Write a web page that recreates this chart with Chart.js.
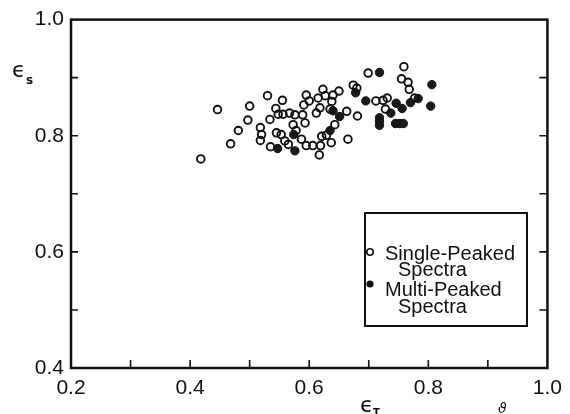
<!DOCTYPE html>
<html>
<head>
<meta charset="utf-8">
<script src="https://cdn.jsdelivr.net/npm/chart.js@4.4.1/dist/chart.umd.min.js"></script>
<style>
  html, body { margin: 0; padding: 0; background: #fff; }
  #wrap { width: 570px; height: 414px; }
</style>
</head>
<body>
<div id="wrap"><canvas id="myChart"></canvas></div>
<script>
// single-peaked spectra (open circles)
var singleX = [0.418, 0.446, 0.468, 0.481, 0.497, 0.500, 0.518, 0.520, 0.518, 0.530,
               0.535, 0.534, 0.544, 0.548, 0.545, 0.553, 0.555, 0.556, 0.559, 0.565,
               0.567, 0.573, 0.576, 0.578, 0.587, 0.589, 0.591, 0.593, 0.595, 0.595,
               0.600, 0.606, 0.612, 0.615, 0.617, 0.618, 0.619, 0.621, 0.623, 0.627,
               0.629, 0.635, 0.637, 0.638, 0.640, 0.643, 0.650, 0.663, 0.665, 0.674,
               0.680, 0.681, 0.699, 0.712, 0.724, 0.728, 0.731, 0.755, 0.759, 0.766,
               0.768, 0.777];
var singleY = [0.760, 0.845, 0.786, 0.809, 0.827, 0.851, 0.814, 0.802, 0.792, 0.869,
               0.781, 0.828, 0.847, 0.837, 0.805, 0.802, 0.861, 0.837, 0.791, 0.785,
               0.839, 0.819, 0.836, 0.809, 0.794, 0.836, 0.853, 0.822, 0.870, 0.783,
               0.860, 0.783, 0.839, 0.865, 0.767, 0.848, 0.783, 0.799, 0.880, 0.869,
               0.801, 0.846, 0.788, 0.859, 0.870, 0.819, 0.877, 0.842, 0.794, 0.887,
               0.882, 0.834, 0.908, 0.860, 0.861, 0.846, 0.865, 0.898, 0.919, 0.892,
               0.880, 0.865];

// multi-peaked spectra (filled circles)
var multiX = [0.547, 0.574, 0.576, 0.635, 0.640, 0.651, 0.678, 0.695, 0.718, 0.718,
              0.718, 0.718, 0.737, 0.745, 0.752, 0.758, 0.746, 0.756, 0.770, 0.783,
              0.806, 0.804];
var multiY = [0.778, 0.802, 0.774, 0.809, 0.843, 0.833, 0.874, 0.860, 0.909, 0.831,
              0.825, 0.818, 0.839, 0.821, 0.821, 0.821, 0.856, 0.847, 0.857, 0.864,
              0.888, 0.851];

var xTickMarks = [0.3, 0.4, 0.5, 0.6, 0.7, 0.8, 0.9];
var yTickMarks = [0.5, 0.6, 0.7, 0.8, 0.9];
var legendLines = [['Single-Peaked', 'Spectra'], ['Multi-Peaked', 'Spectra']];

function toPoints(xs, ys) {
  return xs.map(function(x, i) { return { x: x, y: ys[i] }; });
}

// frame, inward ticks, axis titles and the boxed legend
var frameStuff = {
  id: 'frameStuff',
  afterDatasetsDraw: function(chart) {
    var ctx = chart.ctx;
    var a = chart.chartArea;
    var xs = chart.scales.x, ys = chart.scales.y;
    ctx.save();
    ctx.strokeStyle = '#111';
    ctx.lineWidth = 1.6;
    ctx.beginPath();
    xTickMarks.forEach(function(v) {
      var px = xs.getPixelForValue(v);
      ctx.moveTo(px, a.bottom);
      ctx.lineTo(px, a.bottom - 8);
    });
    yTickMarks.forEach(function(v) {
      var py = ys.getPixelForValue(v);
      ctx.moveTo(a.left, py);
      ctx.lineTo(a.left + 7, py);
      ctx.moveTo(a.right, py);
      ctx.lineTo(a.right - 8, py);
    });
    ctx.stroke();

    ctx.lineWidth = 2.5;
    ctx.strokeRect(a.left, a.top, a.right - a.left, a.bottom - a.top);

    // axis titles
    ctx.fillStyle = '#111';
    ctx.textBaseline = 'alphabetic';
    ctx.textAlign = 'left';
    ctx.font = '22px "DejaVu Sans"';
    ctx.fillText('\u03f5', 12, 77);
    ctx.font = 'bold 12px "DejaVu Sans"';
    ctx.fillText('s', 26, 84);
    ctx.font = '22px "DejaVu Sans"';
    ctx.fillText('\u03f5', 360, 412);
    ctx.font = 'bold 10px "DejaVu Sans"';
    ctx.fillText('T', 373, 416);
    ctx.font = 'italic 14px "DejaVu Sans"';
    ctx.fillText('\u03d1', 498, 413);

    // legend box
    ctx.lineWidth = 2;
    ctx.fillStyle = '#fff';
    ctx.fillRect(365, 213, 162, 113);
    ctx.strokeRect(365, 213, 162, 113);
    ctx.fillStyle = '#111';
    ctx.font = '20px "Liberation Sans"';
    ctx.fillText(legendLines[0][0], 385, 260);
    ctx.fillText(legendLines[0][1], 398, 276);
    ctx.fillText(legendLines[1][0], 385, 296);
    ctx.fillText(legendLines[1][1], 398, 313);
    ctx.lineWidth = 1.6;
    ctx.beginPath();
    ctx.arc(370, 252, 3.2, 0, Math.PI * 2);
    ctx.stroke();
    ctx.beginPath();
    ctx.arc(370, 284, 3.6, 0, Math.PI * 2);
    ctx.fill();
    ctx.restore();
  }
};

var ctx = document.getElementById('myChart').getContext('2d');
var myChart = new Chart(ctx, {
  type: 'scatter',
  data: {
    datasets: [{
      label: 'Single-Peaked Spectra',
      data: toPoints(singleX, singleY),
      pointRadius: 3.8,
      pointBorderWidth: 1.9,
      borderColor: '#111',
      backgroundColor: 'rgba(0,0,0,0)'
    }, {
      label: 'Multi-Peaked Spectra',
      data: toPoints(multiX, multiY),
      pointRadius: 4.2,
      pointBorderWidth: 1,
      borderColor: '#111',
      backgroundColor: '#1a1a1a'
    }]
  },
  options: {
    responsive: true,
    maintainAspectRatio: false,
    animation: false,
    layout: { padding: { top: 13, right: 22, left: 0, bottom: 0 } },
    plugins: { legend: { display: false }, tooltip: { enabled: false } },
    scales: {
      x: {
        type: 'linear',
        min: 0.2,
        max: 1.0,
        grid: { display: false, drawTicks: false },
        border: { display: false },
        ticks: {
          stepSize: 0.2,
          padding: 8,
          color: '#111',
          font: { family: 'Liberation Sans', size: 21 },
          callback: function(v) { return v.toFixed(1); }
        },
        afterFit: function(scale) { scale.height = 46; }
      },
      y: {
        type: 'linear',
        min: 0.4,
        max: 1.0,
        grid: { display: false, drawTicks: false },
        border: { display: false },
        ticks: {
          stepSize: 0.2,
          padding: 7,
          color: '#111',
          font: { family: 'Liberation Sans', size: 21 },
          callback: function(v) { return v.toFixed(1); }
        },
        afterFit: function(scale) { scale.width = 71; }
      }
    }
  },
  plugins: [frameStuff]
});
</script>
</body>
</html>
